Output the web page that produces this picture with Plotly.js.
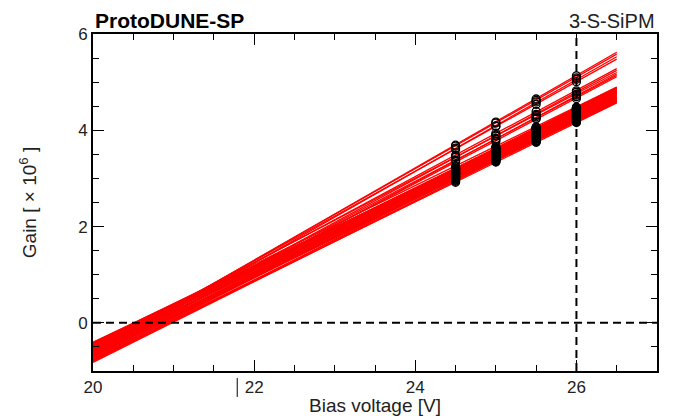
<!DOCTYPE html>
<html><head><meta charset="utf-8">
<script src="https://cdn.plot.ly/plotly-3.0.1.min.js"></script>
<style>html,body{margin:0;padding:0;background:#fff}#chart{width:675px;height:416px}</style>
</head><body><div id="chart"></div>
<script>
// Fit parameters per channel: gain = slope * (V - Vbd)   [x10^6]
const fitSlope = [0.960,0.951,0.952,0.932,
  0.897,0.902,0.877,0.900,0.880,0.885,
  0.818,0.835,0.822,0.842,0.812,0.849,0.818,0.829,0.795,0.834,0.808,0.842,
  0.815,0.792,0.826,0.843,0.805,0.826,0.786,0.837,0.808,0.825,0.786,0.823,
  0.845,0.857,0.825,0.860,0.806,0.826,0.786,0.823,0.795,0.808,0.863,0.805,0.795,0.805];
const fitVbd = [20.646,20.631,20.693,20.622,
  20.613,20.687,20.570,20.756,20.659,20.723,
  20.513,20.659,20.584,20.737,20.554,20.824,20.635,20.724,20.503,20.791,20.619,20.879,
  20.711,20.556,20.823,20.949,20.696,20.872,20.598,20.980,20.792,20.921,20.674,20.948,
  20.710,20.817,20.630,20.907,20.571,20.763,20.522,20.838,20.679,20.817,20.869,20.534,20.616,20.758];
const fitRange = [20, 26.5];

// Measured gains at each bias voltage
const biasV = [24.5, 25, 25.5, 26];
const gain245 = [3.69,3.67,3.63,3.60,3.48,3.45,3.44,3.38,3.37,3.35,3.25,3.22,3.21,3.18,3.20,3.11,3.17,3.12,3.19,3.08,3.15,3.04,3.10,3.11,3.03,3.00,3.05,2.99,3.08,2.96,3.01,2.94,3.00,2.92,
  3.21,3.15,3.19,3.10,3.16,3.08,3.14,3.02,3.05,2.97,3.12,3.20,3.09,3.02];
const gain25  = [4.17,4.15,4.09,4.08,3.94,3.88,3.90,3.81,3.83,3.77,3.66,3.63,3.62,3.58,3.60,3.55,3.56,3.53,3.58,3.50,3.53,3.48,3.48,3.51,3.44,3.42,3.45,3.40,3.47,3.37,3.39,3.35,3.41,3.34,
  3.62,3.59,3.61,3.52,3.56,3.50,3.53,3.43,3.45,3.38,3.57,3.58,3.48,3.42];
const gain255 = [4.65,4.62,4.59,4.54,4.39,4.33,4.31,4.28,4.25,4.24,4.07,4.05,4.03,4.00,4.02,3.96,3.99,3.95,3.96,3.94,3.93,3.88,3.91,3.90,3.85,3.84,3.86,3.83,3.84,3.79,3.81,3.76,3.78,3.75,
  4.05,4.02,4.01,3.95,3.98,3.90,3.92,3.84,3.83,3.79,4.00,4.01,3.87,3.82];
const gain26  = [5.13,5.09,5.06,5.01,4.82,4.79,4.75,4.73,4.70,4.66,4.48,4.46,4.44,4.43,4.41,4.38,4.40,4.36,4.37,4.33,4.35,4.30,4.32,4.30,4.27,4.26,4.28,4.24,4.25,4.20,4.22,4.19,4.18,4.16,
  4.47,4.44,4.42,4.38,4.39,4.33,4.31,4.25,4.23,4.19,4.43,4.40,4.28,4.22];

const xTickVals = [20,22,24,26];
const yTickVals = [0,2,4,6];

const traces = [];
for (let i = 0; i < fitSlope.length; i++) {
  traces.push({
    type:'scatter', mode:'lines',
    x: fitRange,
    y: fitRange.map(v => fitSlope[i]*(v - fitVbd[i])),
    line:{color:'rgb(255,0,0)', width:1.3},
    hoverinfo:'skip', showlegend:false
  });
}
const gainsByV = [gain245, gain25, gain255, gain26];
const px = [], py = [];
gainsByV.forEach((arr, k) => arr.forEach(g => { px.push(biasV[k]); py.push(g); }));
traces.push({
  type:'scatter', mode:'markers', x:px, y:py,
  marker:{symbol:'circle-open', size:8, color:'#000', line:{width:1.3, color:'#000'}},
  showlegend:false
});

const fontFam = 'Liberation Sans, Arial, sans-serif';
const layout = {
  width:675, height:416,
  margin:{l:93, r:18, t:34, b:45},
  paper_bgcolor:'#fff', plot_bgcolor:'#fff',
  showlegend:false,
  font:{family:fontFam, color:'#111', size:17},
  xaxis:{
    range:[20,27], tickvals:xTickVals, ticktext:xTickVals.map(String),
    ticks:'inside', ticklen:11, tickwidth:1, tickcolor:'#000',
    minor:{dtick:0.5, tick0:20, ticks:'inside', ticklen:6, tickwidth:1, tickcolor:'#000'},
    showline:true, linewidth:2, linecolor:'#000', mirror:'allticks',
    showgrid:false, zeroline:false,
    tickfont:{size:17, color:'#222'},
    title:{text:'Bias voltage [V]', font:{size:19, color:'#222'}, standoff:1}
  },
  yaxis:{
    range:[-1,6], tickvals:yTickVals, ticktext:yTickVals.map(String),
    ticks:'inside', ticklen:11, tickwidth:1, tickcolor:'#000',
    minor:{dtick:0.5, tick0:0, ticks:'inside', ticklen:6, tickwidth:1, tickcolor:'#000'},
    showline:true, linewidth:2, linecolor:'#000', mirror:'allticks',
    showgrid:false, zeroline:false,
    tickfont:{size:17, color:'#222'},
    title:{text:'Gain [ × 10<sup>6</sup> ]', font:{size:19, color:'#222'}, standoff:36}
  },
  shapes:[
    {type:'line', xref:'paper', yref:'y', x0:0, x1:1, y0:0, y1:0, line:{color:'#000', width:2, dash:'8px,5px'}, layer:'above'},
    {type:'line', xref:'x', yref:'paper', x0:26, x1:26, y0:0, y1:1, line:{color:'#000', width:2, dash:'8px,5px'}, layer:'above'},
    {type:'line', xref:'x', yref:'paper', x0:21.79, x1:21.79, y0:-0.021, y1:-0.077, line:{color:'#000', width:1}}
  ],
  annotations:[
    {xref:'paper', yref:'paper', x:0, y:1, xanchor:'left', yanchor:'bottom', yshift:0, showarrow:false,
     text:'<b>ProtoDUNE-SP</b>', font:{size:21, color:'#000', family:fontFam}},
    {xref:'paper', yref:'paper', x:1, y:1, xanchor:'right', yanchor:'bottom', yshift:0, showarrow:false,
     text:'3-S-SiPM', font:{size:20, color:'#222', family:fontFam}}
  ]
};
Plotly.newPlot('chart', traces, layout, {staticPlot:true, displayModeBar:false});
</script></body></html>
